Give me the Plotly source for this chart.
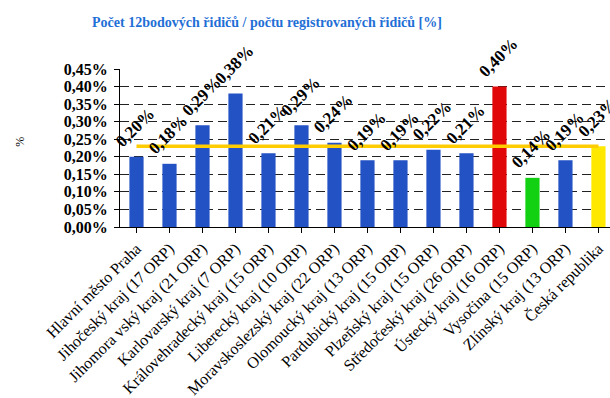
import plotly.graph_objects as go

regions = [
    "Hlavní město Praha",
    "Jihočeský kraj (17 ORP)",
    "Jihomora vský kraj (21 ORP)",
    "Karlovarský kraj (7 ORP)",
    "Královehradecký kraj (15 ORP)",
    "Liberecký kraj (10 ORP)",
    "Moravskoslezský kraj (22 ORP)",
    "Olomoucký kraj (13 ORP)",
    "Pardubický kraj (15 ORP)",
    "Plzeňský kraj (15 ORP)",
    "Středočeský kraj (26 ORP)",
    "Ústecký kraj (16 ORP)",
    "Vysočina (15 ORP)",
    "Zlínský kraj (13 ORP)",
    "Česká republika",
]
share_pct = [0.20, 0.18, 0.29, 0.38, 0.21, 0.29, 0.24, 0.19, 0.19, 0.22, 0.21, 0.40, 0.14, 0.19, 0.23]
national_avg = 0.23
y_ticks = [0.00, 0.05, 0.10, 0.15, 0.20, 0.25, 0.30, 0.35, 0.40, 0.45]

BLUE = "#2352C4"
bar_colors = [BLUE] * len(regions)
bar_colors[11] = "#E00808"   # highest
bar_colors[12] = "#12D012"   # lowest
bar_colors[14] = "#FFE800"   # national value

SERIF = "Liberation Serif, Times New Roman, serif"

fig = go.Figure()
fig.add_trace(go.Bar(
    x=list(range(len(regions))),
    y=share_pct,
    width=0.43,
    marker=dict(color=bar_colors, line=dict(width=0)),
    hoverinfo="skip",
))
# national average as a horizontal reference line
fig.add_trace(go.Scatter(
    x=list(range(len(regions))),
    y=[national_avg] * len(regions),
    mode="lines",
    line=dict(color="#FFCC00", width=3.5),
    hoverinfo="skip",
))

for i, v in enumerate(share_pct):
    fig.add_annotation(
        x=i, y=v, text=f"{v:.2f}%".replace(".", ","),
        showarrow=False, textangle=-45, yshift=29, xshift=-1,
        font=dict(family=SERIF, size=17, color="black", weight="bold"),
    )

# value-axis unit label
fig.add_annotation(
    xref="paper", yref="paper", x=-100 / 490, y=0.54,
    xanchor="center", yanchor="middle",
    text="%", showarrow=False, textangle=-90,
    font=dict(family=SERIF, size=12, color="black"),
)

fig.update_layout(
    width=610, height=398,
    margin=dict(l=120, r=0, t=69, b=171, autoexpand=False),
    paper_bgcolor="white", plot_bgcolor="white",
    showlegend=False,
    separators=", ",
    bargap=0.5,
    title=dict(
        text="Počet 12bodových řidičů / počtu registrovaných řidičů [%]",
        x=267 / 610, xanchor="center", y=1 - 22 / 398, yanchor="middle",
        font=dict(family=SERIF, size=14, color="#1F6FD6", weight="bold"),
    ),
    xaxis=dict(
        range=[-0.5, 14.35],
        tickmode="array", tickvals=list(range(len(regions))), ticktext=regions,
        tickangle=-45, tickson="boundaries", ticks="outside", ticklen=5,
        tickcolor="black", showline=True, linecolor="black", linewidth=1,
        showgrid=False, zeroline=False,
        tickfont=dict(family=SERIF, size=16, color="black"),
    ),
    yaxis=dict(
        range=[0, 0.45],
        tickmode="array", tickvals=y_ticks,
        ticktext=[f"{t:.2f}%".replace(".", ",") for t in y_ticks],
        ticks="outside", ticklen=5, tickcolor="black",
        showline=True, linecolor="black", linewidth=1,
        showgrid=True, gridcolor="#222222", gridwidth=1, griddash="9px,5px",
        zeroline=False,
        ticklabelstandoff=3,
        tickfont=dict(family=SERIF, size=16, color="black", weight="bold"),
    ),
)

fig.write_html("out.html")
